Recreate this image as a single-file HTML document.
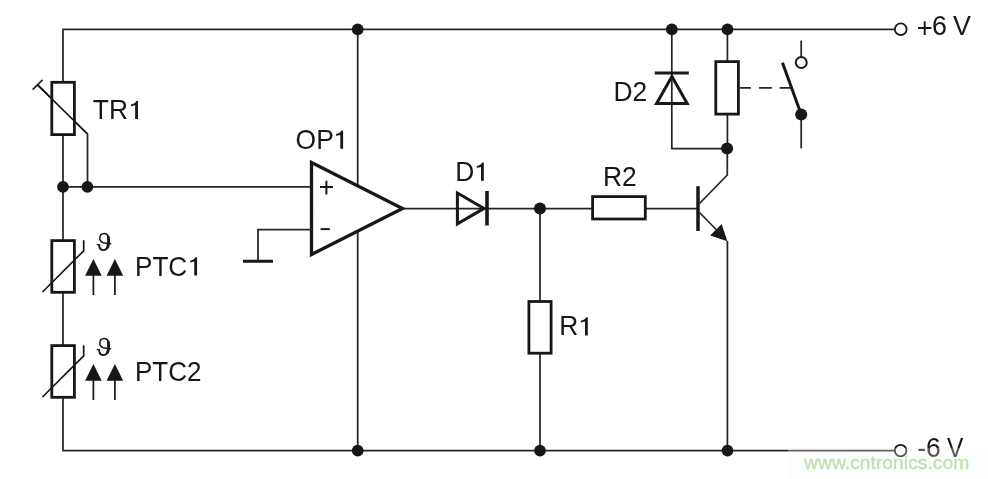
<!DOCTYPE html>
<html><head><meta charset="utf-8">
<style>
html,body{margin:0;padding:0;background:#fff;width:988px;height:479px;overflow:hidden}
svg{display:block}
text{font-family:"Liberation Sans",sans-serif}
</style></head>
<body>
<svg width="988" height="479" viewBox="0 0 988 479">
<defs><filter id="gs" x="0" y="0" width="988" height="479" filterUnits="userSpaceOnUse"><feColorMatrix type="saturate" values="0"/></filter><path id="one" d="M0 0V-18.1H-1.6C-2.3 -16.3 -4.5 -15 -7 -14.6V-12.9C-5.5 -13 -4.1 -13.3 -2.8 -13.8V0Z"/></defs>
<g fill="none" stroke="#2a2523" stroke-width="1.75">
  <!-- rails -->
  <path d="M894.5 29.3H63V450.6H894.3"/>
  <!-- TR1 tap -->
  <path d="M63 186.8H311.5"/>
  <path d="M87.5 186.8V134L37.6 84.9"/>
  <path d="M32.6 89.6L42.5 79.8"/>
  <!-- opamp supply -->
  <path d="M357.7 29.3V450.5"/>
  <!-- minus input + ground -->
  <path d="M311.5 229.6H258V261"/>
  <!-- output -->
  <path d="M403 208.5H698"/>
  <path d="M540 208.5V450.5"/>
  <!-- transistor -->
  <path d="M699.5 203.5L727.3 175V148.5H671.8V29.3"/>
  <path d="M699.5 212.5L722 235.5"/>
  <path d="M727.4 241V450.5"/>
  <path d="M727.4 29.3V148.5"/>
  <!-- switch -->
  <path d="M801.2 40.6V57"/>
  <path d="M801.2 114.5V148.3"/>
  <path d="M739.9 87.9H750.9M759 87.9H771.9M779.6 87.9H790.6"/>
</g>
<g fill="#fff" stroke="#1a1614" stroke-width="2.8">
  <rect x="51.8" y="82.3" width="22.6" height="52.3"/>
  <rect x="51.8" y="240.6" width="22.6" height="51.7"/>
  <rect x="51.8" y="345.6" width="22.6" height="51.7"/>
  <rect x="528.9" y="301.5" width="22.2" height="51.7"/>
  <rect x="715.8" y="61.6" width="22.6" height="52.5"/>
  <rect x="592.6" y="196.6" width="52.7" height="22.4"/>
  <!-- opamp -->
  <path d="M311.5 162.5L402.5 208.5L311.5 254.5Z" stroke-width="3.3" stroke-linejoin="miter"/>
</g>
<g fill="none" stroke="#1a1614" stroke-width="1.7">
  <!-- TR1 diagonal over rect -->
  <path d="M37.6 84.9L87.5 134"/>
  <!-- PTC diagonals -->
  <path d="M42.5 292L83.7 250.8V240.3"/>
  <path d="M42.5 397L83.7 355.8V345.3"/>
  <!-- PTC arrow stems -->
  <path d="M93.4 275V294.9M114.9 275V294.9M93.4 380V399.9M114.9 380V399.9"/>
  <path d="M320 187.1H333M326.4 180.8V194.4" stroke-width="2"/>
  <path d="M320.6 229.1H329.8" stroke-width="2"/>
  <path d="M243 261.25H273" stroke-width="3"/>
  <!-- D1 -->
  <path d="M457.4 193L484 208.4L457.4 223.8Z" stroke-width="3"/>
  <path d="M487 191V225.5" stroke-width="3.6"/>
  <!-- D2 -->
  <path d="M654.8 72.9H688.8" stroke-width="3"/>
  <path d="M671.9 76.6L687.2 103.5H656.6Z" stroke-width="3"/>
  <!-- base bar -->
  <path d="M698 186.2V231" stroke-width="3.5"/>
  <!-- lever -->
  <path d="M782.5 62.8L801.2 114.5" stroke-width="3"/>
  <circle cx="801.25" cy="62.5" r="5.5" stroke-width="2" fill="#fff"/>
  <circle cx="900.75" cy="29.25" r="5.85" stroke-width="1.8" fill="#fff"/>
  <circle cx="900.6" cy="450.6" r="5.8" stroke-width="1.8" fill="#fff"/>
</g>
<g fill="#1a1614">
  <path d="M727.4 241.3L710.2 235.5L721.6 224.1Z"/>
  <path d="M93.4 258.9L101.7 275.7H85.1Z"/>
  <path d="M114.9 258.9L123.2 275.7H106.6Z"/>
  <path d="M93.4 363.9L101.7 380.7H85.1Z"/>
  <path d="M114.9 363.9L123.2 380.7H106.6Z"/>
  <circle cx="63" cy="186.8" r="5.9"/>
  <circle cx="87.4" cy="186.8" r="5.9"/>
  <circle cx="357.7" cy="29.3" r="5.9"/>
  <circle cx="357.7" cy="450.6" r="5.9"/>
  <circle cx="540" cy="208.5" r="6"/>
  <circle cx="540" cy="450.6" r="5.9"/>
  <circle cx="727.5" cy="450.6" r="5.9"/>
  <circle cx="671.8" cy="29.3" r="5.9"/>
  <circle cx="727.5" cy="29.3" r="5.9"/>
  <circle cx="727.1" cy="148.5" r="6"/>
  <circle cx="801.2" cy="114.5" r="6"/>
</g>
<g id="th1" transform="translate(0 0.6)" fill="none" stroke="#1a1614" stroke-linecap="round">
  <path d="M110.6 243.1C108 243 105.5 242.9 103.3 242.2C100.9 241.3 99.6 239.4 99.8 237.2C100 234.8 101.7 232.9 104 232.8C106.5 232.7 108.3 234.7 108.4 237.2" stroke-width="1.5"/>
  <path d="M108.4 236.6C108.9 240.5 108.6 244.3 107.6 246.6" stroke-width="2.8"/>
  <path d="M107.6 246.6C106.8 248.6 105.3 249.5 103.4 249.5C101.3 249.5 99.7 248.1 99.4 246.3C99.3 245.4 99.3 244.8 99.3 244.4" stroke-width="1.9"/>
  <path d="M99.3 244.4C98.8 244.1 97.9 244 97.2 244.1" stroke-width="1.2"/>
</g>
<use href="#th1" y="105"/>
<g fill="#1a1614" font-size="26.4" filter="url(#gs)">
  <text transform="translate(92.8 119.1) scale(1 1.02)">TR</text>
  <text transform="translate(295.6 148.8) scale(1 1.02)">OP</text>
  <text transform="translate(455.2 180.7) scale(1 1.02)">D</text>
  <text transform="translate(603 185.7) scale(1 1.02)">R2</text>
  <text transform="translate(613.4 100.8) scale(1 1.02)">D2</text>
  <text transform="translate(559.3 335.4) scale(1 1.02)">R</text>
  <text transform="translate(135 275.8) scale(0.99 1.02)">PTC</text>
  <text transform="translate(135 381.1) scale(0.985 1.02)">PTC2</text>
  <text transform="translate(916.7 36.9) scale(1.02 1.02)" font-size="26.8">+</text>
  <text transform="translate(931.9 35.3) scale(1 1.06)" font-size="26.8">6</text>
  <text transform="translate(953 35.2) scale(1 1.06)" font-size="26.8">V</text>
  <text transform="translate(917.3 457) scale(1 1.04)">-6</text>
  <text transform="translate(947 456.8) scale(0.93 1.04)">V</text>
  <use href="#one" x="137.95" y="119.1"/>
  <use href="#one" x="343.1" y="148.7"/>
  <use href="#one" x="483.8" y="180.7"/>
  <use href="#one" x="587.8" y="335.4"/>
  <use href="#one" x="197.05" y="275.4"/>
</g>
<rect x="788" y="447.8" width="200" height="31.2" fill="#f8f8f8" fill-opacity="0.28"/>
<text transform="translate(804 469.3) scale(1.012 0.95)" font-size="19.1" fill="#bfe0b5" stroke="#bfe0b5" stroke-width="0.35">www.cntronics.com</text>
</svg>
</body></html>
